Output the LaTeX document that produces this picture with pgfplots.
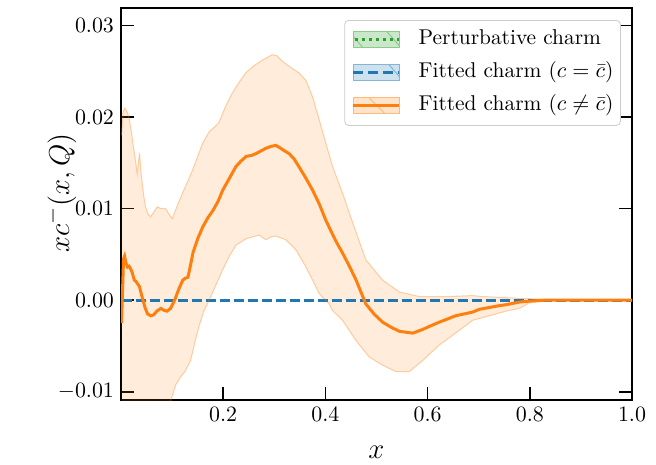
\documentclass[border=0pt]{standalone}
\usepackage{pgfplots}
\pgfplotsset{compat=1.18}
\usepgfplotslibrary{fillbetween}
\definecolor{tabblue}{RGB}{31,119,180}
\definecolor{taborange}{RGB}{255,127,14}
\definecolor{tabgreen}{RGB}{44,160,44}

\pgfplotstableread{
x y
0.001 -0.0025
0.003 0.0010
0.005 0.0045
0.007 0.0048
0.010 0.0040
0.013 0.0036
0.016 0.0037
0.019 0.0034
0.022 0.0030
0.026 0.0022
0.030 0.0020
0.036 0.0015
0.042 0.0002
0.047 -0.0008
0.052 -0.0015
0.058 -0.0017
0.064 -0.0016
0.070 -0.0012
0.078 -0.0009
0.084 -0.0011
0.090 -0.0012
0.097 -0.0009
0.105 0.0
0.113 0.0012
0.121 0.0022
0.126 0.0024
0.131 0.0025
0.136 0.0038
0.141 0.0052
0.150 0.0067
0.160 0.0080
0.170 0.0090
0.180 0.0098
0.190 0.0108
0.199 0.0120
0.212 0.0133
0.225 0.0146
0.235 0.0152
0.245 0.0157
0.255 0.0158
0.264 0.0160
0.274 0.0163
0.284 0.0166
0.294 0.0168
0.303 0.0169
0.312 0.0166
0.320 0.0163
0.329 0.0160
0.339 0.0154
0.349 0.0145
0.362 0.0133
0.375 0.0120
0.388 0.0105
0.401 0.0087
0.420 0.0065
0.434 0.0051
0.447 0.0037
0.460 0.0022
0.479 -0.0004
0.495 -0.0015
0.512 -0.0024
0.530 -0.0030
0.545 -0.0034
0.571 -0.0036
0.590 -0.0032
0.610 -0.0027
0.623 -0.0024
0.655 -0.0017
0.688 -0.0013
0.701 -0.0010
0.740 -0.0006
0.753 -0.0005
0.780 -0.0002
0.800 -0.0001
0.830 0.0
0.900 0.0
1.000 0.0
}\centraldata

\pgfplotstableread{
x y
0.001 0.0180
0.004 0.0205
0.0075 0.0210
0.012 0.0205
0.0154 0.0200
0.020 0.0185
0.0252 0.0164
0.029 0.0150
0.0317 0.0138
0.034 0.0150
0.0363 0.0161
0.039 0.0140
0.0415 0.0128
0.045 0.0112
0.048 0.0102
0.053 0.0094
0.0578 0.0091
0.064 0.0096
0.0709 0.0102
0.078 0.0100
0.0872 0.0100
0.095 0.0093
0.1002 0.0089
0.110 0.0103
0.1204 0.0117
0.130 0.0129
0.140 0.0142
0.150 0.0157
0.1595 0.0171
0.1726 0.0184
0.1850 0.0190
0.1915 0.0194
0.205 0.0212
0.2176 0.0226
0.230 0.0237
0.2437 0.0248
0.260 0.0256
0.2763 0.0262
0.2959 0.0268
0.305 0.0267
0.3155 0.0261
0.330 0.0255
0.3487 0.0248
0.3618 0.0240
0.3748 0.0222
0.3879 0.0197
0.4010 0.0171
0.4140 0.0146
0.4335 0.0117
0.4550 0.0082
0.4792 0.0044
0.5118 0.0022
0.5444 0.0009
0.5835 0.0004
0.6422 0.0004
0.688 0.0005
0.7075 0.0004
0.780 0.0002
0.830 0.0001
0.900 0.0
1.000 0.0
}\upperdata

\pgfplotstableread{
x y
0.001 -0.030
0.050 -0.024
0.080 -0.016
0.090 -0.0130
0.0977 -0.0109
0.1074 -0.0092
0.1165 -0.0084
0.1250 -0.0078
0.1361 -0.0066
0.145 -0.0045
0.1524 -0.0029
0.162 -0.0012
0.1726 0.0
0.1860 0.0017
0.1987 0.0033
0.2120 0.0048
0.2248 0.0060
0.2443 0.0067
0.2570 0.0069
0.2704 0.0071
0.2835 0.0066
0.2930 0.0069
0.303 0.0070
0.3226 0.0066
0.3422 0.0055
0.3611 0.0037
0.3748 0.0022
0.3879 0.0007
0.4074 -0.0004
0.4133 -0.0011
0.4335 -0.0022
0.4596 -0.0044
0.4857 -0.0062
0.5118 -0.0071
0.5379 -0.0078
0.564 -0.0078
0.5901 -0.0066
0.6227 -0.0049
0.6618 -0.0033
0.6879 -0.0022
0.714 -0.0018
0.7532 -0.0012
0.7793 -0.0009
0.7988 -0.0003
0.838 0.0
0.900 0.0
1.000 0.0
}\lowerdata

\pgfplotstableread{
x y
0.001 0
1.000 0
}\zerodata

\begin{document}
\begin{tikzpicture}
\begin{axis}[
  scale only axis, width=255.5pt, height=196pt,
  xmin=0, xmax=1, ymin=-0.0109, ymax=0.0319,
  xtick={0.2,0.4,0.6,0.8,1.0},
  ytick={-0.01,0,0.01,0.02,0.03},
  scaled y ticks=false, scaled x ticks=false,
  xticklabel style={/pgf/number format/.cd, fixed, fixed zerofill, precision=1},
  yticklabel style={/pgf/number format/.cd, fixed, fixed zerofill, precision=2},
  tick align=inside, xtick pos=left, ytick pos=both, yticklabel pos=left,
  major tick length=6.5pt,
  every tick/.style={black, line width=0.8pt},
  axis line style={line width=1pt},
  tick label style={font=\fontsize{10.7}{12}\selectfont},
  xlabel={$x$}, ylabel={$xc^-(x,Q)$},
  label style={font=\fontsize{15}{18}\selectfont},
  xlabel style={at={(axis description cs:0.5,0)}, anchor=center, yshift=-26pt},
  ylabel style={at={(axis description cs:-0.1174,0.528)}, anchor=center},
  legend style={at={(1,1)}, anchor=north east, xshift=-5.6pt, yshift=-6pt,
    draw=black!20, rounded corners=2pt, fill=white,
    font=\fontsize{10.7}{12}\selectfont,
    inner xsep=3.5pt, inner ysep=2pt, row sep=1pt,
    nodes={draw=none, text height=7.5pt, text depth=2.7pt, inner ysep=2.65pt, inner xsep=0pt},
    /tikz/every odd column/.append style={column sep=9pt}},
  legend cell align=left,
]
% perturbative charm
\addplot[tabgreen, dotted, line width=1.5pt, forget plot] table {\zerodata};
% fitted charm c = cbar
\addplot[tabblue, dash pattern=on 5pt off 2pt, line width=1.5pt, forget plot] table {\zerodata};
% fitted charm c != cbar
\addplot[name path=up, draw=taborange, draw opacity=0.35, line width=0.5pt, forget plot] table {\upperdata};
\addplot[name path=lo, draw=taborange, draw opacity=0.35, line width=0.5pt, forget plot] table {\lowerdata};
\addplot[fill=taborange, fill opacity=0.15, draw=none, forget plot] fill between[of=up and lo];
\addplot[taborange, line width=1.5pt, forget plot] table {\centraldata};

\addlegendimage{legend image code/.code={
  \path[sharp corners, fill=tabgreen!25, draw=none] (0pt,-4pt) rectangle (23pt,4pt);
  \begin{scope}
    \path[clip, draw=none, fill=none, sharp corners] (0pt,-4pt) rectangle (23pt,4pt);
    \draw[sharp corners, tabgreen!55, fill=none, line width=0.5pt] (17pt,4pt) -- (24pt,-4pt);
    \draw[sharp corners, tabgreen!55, fill=none, line width=0.5pt] (-2pt,4pt) -- (5pt,-4pt);
  \end{scope}
  \draw[sharp corners, tabgreen!55, fill=none, line width=0.5pt] (0pt,-4pt) rectangle (23pt,4pt);
  \draw[sharp corners, tabgreen, fill=none, dotted, line width=1.5pt] (1pt,0pt) -- (23pt,0pt);
}}
\addlegendentry{Perturbative charm}
\addlegendimage{legend image code/.code={
  \path[sharp corners, fill=tabblue!22, draw=none] (0pt,-4pt) rectangle (23pt,4pt);
  \begin{scope}
    \path[clip, draw=none, fill=none, sharp corners] (0pt,-4pt) rectangle (23pt,4pt);
    \draw[sharp corners, tabblue!55, fill=none, line width=0.5pt] (18pt,4pt) -- (25pt,-4pt);
  \end{scope}
  \draw[sharp corners, tabblue!55, fill=none, line width=0.5pt] (0pt,-4pt) rectangle (23pt,4pt);
  \draw[sharp corners, tabblue, fill=none, dash pattern=on 5pt off 2.5pt, line width=1.5pt] (0pt,0pt) -- (23pt,0pt);
}}
\addlegendentry{Fitted charm ($c=\bar{c}$)}
\addlegendimage{legend image code/.code={
  \path[sharp corners, fill=taborange!22, draw=none] (0pt,-4pt) rectangle (23pt,4pt);
  \begin{scope}
    \path[clip, draw=none, fill=none, sharp corners] (0pt,-4pt) rectangle (23pt,4pt);
    \draw[sharp corners, taborange!55, fill=none, line width=0.5pt] (8pt,4pt) -- (16pt,-4pt);
  \end{scope}
  \draw[sharp corners, taborange!55, fill=none, line width=0.5pt] (0pt,-4pt) rectangle (23pt,4pt);
  \draw[sharp corners, taborange, fill=none, line width=1.5pt] (0pt,0pt) -- (23pt,0pt);
}}
\addlegendentry{Fitted charm ($c\neq\bar{c}$)}
\end{axis}
\path ([shift={(-60.5pt,-31pt)}]current axis.south west) rectangle ([shift={(12pt,4pt)}]current axis.north east);
\end{tikzpicture}
\end{document}
